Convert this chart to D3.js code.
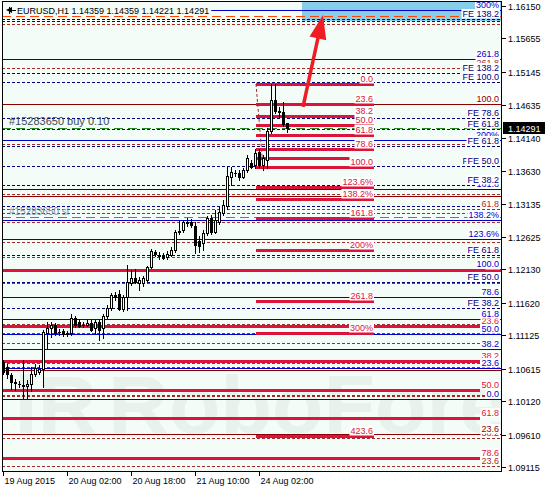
<!DOCTYPE html>
<html><head><meta charset="utf-8">
<script src="https://cdn.jsdelivr.net/npm/d3@7"></script>
<style>body{margin:0;background:#fff}svg{display:block}text{font-family:"Liberation Sans",Arial,sans-serif}</style>
</head><body><svg id="c" width="545" height="490"></svg>
<script>
// ---------- DATA ----------
const symbol = "EURUSD,H1";
const lastOHLC = [1.14359, 1.14359, 1.14221, 1.14291];
const currentPrice = 1.14291;
// hourly bars, index 0 = 19 Aug 2015 10:00
const opens = [1.10717,1.10641,1.10519,1.10412,1.10382,1.10367,1.10351,1.10382,1.10534,1.10565,
1.10611,1.11160,1.11236,1.11282,1.11175,1.11191,1.11145,1.11160,1.11389,1.11328,
1.11282,1.11282,1.11313,1.11236,1.11328,1.11236,1.11419,1.11542,1.11740,1.11755,
1.11526,1.11709,1.11923,1.11999,1.11923,1.11923,1.11969,1.12167,1.12396,1.12350,
1.12335,1.12320,1.12350,1.12427,1.12701,1.12732,1.12839,1.12854,1.12793,1.12564,
1.12533,1.12686,1.12915,1.12701,1.12854,1.12991,1.13098,1.13541,1.13602,1.13602,
1.13541,1.13647,1.13754,1.13724,1.13922,1.13724,1.13800,1.14243,1.14716,1.14548,
1.14533,1.14359];
const highs = [1.10748,1.10687,1.10549,1.10458,1.10427,1.10748,1.10443,1.10641,1.10687,1.10672,
1.11206,1.11328,1.11328,1.11313,1.11221,1.11221,1.11191,1.11450,1.11419,1.11374,
1.11328,1.11358,1.11358,1.11358,1.11358,1.11450,1.11587,1.11770,1.11786,1.11816,
1.11740,1.12198,1.12121,1.12137,1.12015,1.12030,1.12182,1.12442,1.12427,1.12396,
1.12381,1.12411,1.12472,1.12732,1.12869,1.12884,1.12915,1.12900,1.12854,1.12640,
1.12732,1.12945,1.12961,1.13037,1.13083,1.13190,1.13693,1.13693,1.13647,1.13647,
1.13678,1.13876,1.13800,1.13968,1.13968,1.13876,1.14288,1.14960,1.14960,1.14609,
1.14685,1.14359];
const lows = [1.10534,1.10473,1.10305,1.10290,1.10336,1.10168,1.10168,1.10275,1.10504,1.10534,
1.10336,1.10931,1.11099,1.11130,1.11130,1.11114,1.11114,1.11130,1.11252,1.11252,
1.11252,1.11267,1.11191,1.11160,1.11053,1.11084,1.11389,1.11511,1.11664,1.11511,
1.11496,1.11511,1.11892,1.11923,1.11816,1.11877,1.11938,1.12152,1.12335,1.12289,
1.12289,1.12289,1.12335,1.12396,1.12671,1.12701,1.12793,1.12778,1.12381,1.12396,
1.12427,1.12655,1.12671,1.12686,1.12823,1.12961,1.13052,1.13419,1.13556,1.13495,
1.13525,1.13617,1.13678,1.13678,1.13693,1.13647,1.13678,1.14212,1.14517,1.14456,
1.14319,1.14221];
const closes = [1.10565,1.10534,1.10412,1.10397,1.10375,1.10351,1.10382,1.10534,1.10626,1.10611,
1.11175,1.11236,1.11282,1.11160,1.11170,1.11145,1.11160,1.11389,1.11282,1.11267,
1.11277,1.11313,1.11206,1.11328,1.11206,1.11419,1.11542,1.11740,1.11709,1.11526,
1.11709,1.11938,1.11999,1.11938,1.11969,1.11999,1.12167,1.12411,1.12366,1.12340,
1.12305,1.12366,1.12427,1.12701,1.12712,1.12854,1.12850,1.12808,1.12503,1.12488,
1.12686,1.12915,1.12701,1.12884,1.13007,1.13113,1.13556,1.13617,1.13595,1.13541,
1.13647,1.13830,1.13693,1.13907,1.13724,1.13830,1.14243,1.14716,1.14548,1.14533,
1.14349,1.14291];

const timeTickBars = [0, 16, 32, 48, 64];
const timeTickLabels = ["19 Aug 2015", "20 Aug 02:00", "20 Aug 18:00", "21 Aug 10:00", "24 Aug 02:00"];
const priceTicks = [1.16150,1.15655,1.15145,1.14635,1.14140,1.13630,1.13135,1.12625,1.12130,1.11620,1.11125,1.10615,1.10120,1.09610,1.09115];

// Fibonacci retracement / extension levels
const fibRatios = [0, 23.6, 38.2, 50, 61.8, 78.6, 100, 123.6, 138.2, 161.8, 200, 261.8, 300, 423.6];
const fibLabels = ["0.0","23.6","38.2","50.0","61.8","78.6","100.0","123.6%","138.2%","161.8","200%","261.8","300%","423.6"];
// short crimson fibo on the last swing (level 0 price, level 100 price) and its bar span
const fibShortAnchors = [1.14960, 1.13693];
const fibShortBars = [63.25, 92.75];
const fibShortExtra = [88.6];
// long blue fibo
const fibBlueAnchors = [1.10153, 1.12132];
// long crimson fibo
const fibRedAnchors = [1.12121, 1.08474];
const fibRedRatios = [0, 23.6, 38.2, 50, 61.8, 78.6];
const fibRedLabels = ["0.0","23.6","38.2","50.0","61.8","78.6"];

// Fibo expansion levels (navy dashed)
const feLevels = [1.15952,1.15921,1.15128,1.14990,1.14441,1.14273,1.14014,1.13708,1.13705,1.13419,1.13098,1.12350,1.11938,1.11542];
const feLabels = ["FE 138.2","","FE 138.2","FE 100.0","FE 78.6","FE 61.8","FE 61.8","FE 100.0","FE 50.0","FE 38.2","","FE 61.8","FE 50.0","FE 38.2"];
// dark red dashed levels
const brownDashLevels = [1.15875,1.15204,1.14044,1.13281,1.13052,1.12991,1.12854,1.12549,1.12320,1.11923,1.11297,1.11160,1.11007,1.10702,1.10641,1.10199,1.09558,1.09130];
const brownDashLabels = ["","261.8","","","61.8","","","","","","","","","","","","38.2","23.6"];
const brownDashBold = [1.10199];
// dark red solid levels
const brownSolidLevels = [1.14655, 1.13251, 1.10595, 1.09619];
const brownSolidLabels = ["100.0", "", "", "23.6"];

// order lines
const orderId = "#15283650";
const buyPrice = 1.14290, slPrice = 1.12930, tpPrice = 1.15997;
// drawn objects
const zoneBars = [74.75, 130], zonePrices = [1.15921, 1.1700];
const arrowFrom = [75, 1.14609], arrowTo = [80, 1.16013];
const trendFrom = [63.25, 1.14960], trendTo = [65, 1.13693];
const watermark = "RoboForex";

// ---------- CHART ----------
const W = 545, H = 490;
const P = {l: 2, t: 1, r: 501, b: 471};
const x = d3.scaleLinear().domain([0, 124.5]).range([3, 501]);
const y = d3.scaleLinear().domain([1.09115, 1.16150]).range([467, 6]);
const C = {bg: "#f3fcf7", navy: "#000080", blue: "#0000cd", crimson: "#dc143c", brown: "#a52a2a",
           brownSolid: "#8b0000", orange: "#ff4500", green: "#1e8c1e"};

const svg = d3.select("#c");
svg.append("rect").attr("width", W).attr("height", H).attr("fill", "#fff");
svg.append("defs").append("clipPath").attr("id", "clip").append("rect")
  .attr("x", P.l).attr("y", P.t).attr("width", P.r - P.l).attr("height", P.b - P.t);
const g = svg.append("g").attr("clip-path", "url(#clip)");
g.append("rect").attr("x", P.l).attr("y", P.t).attr("width", P.r - P.l).attr("height", P.b - P.t).attr("fill", C.bg);

// watermark
const wm = g.append("g").attr("fill", "#e8f2ed");
wm.append("rect").attr("x", 20).attr("y", 374).attr("width", 12).attr("height", 59);
wm.append("text").attr("x", 38).attr("y", 433).attr("font-size", 82).attr("font-weight", "bold").text("R");
wm.append("text").attr("x", 108).attr("y", 433).attr("font-size", 82).attr("font-weight", "bold")
  .attr("textLength", 445).attr("lengthAdjust", "spacingAndGlyphs").text(watermark);

// zone rectangle
g.append("rect").attr("x", x(zoneBars[0])).attr("width", x(zoneBars[1]) - x(zoneBars[0]))
  .attr("y", y(zonePrices[1])).attr("height", y(zonePrices[0]) - y(zonePrices[1])).attr("fill", "#87ceeb");

const lines = g.append("g");
function hline(p, x0, x1, color, w, dash) {
  const yy = (w % 2 === 1) ? Math.round(y(p)) + 0.5 : Math.round(y(p));
  lines.append("line").attr("x1", x0).attr("x2", x1).attr("y1", yy).attr("y2", yy)
    .attr("stroke", color).attr("stroke-width", w).attr("stroke-dasharray", dash || null);
}
const XL = P.l, XR = P.r;
brownDashLevels.forEach(p => hline(p, XL, XR, C.brown, brownDashBold.includes(p) ? 2 : 1, "3,2"));
feLevels.forEach(p => hline(p, XL, XR, C.navy, 1, "3,2"));
brownSolidLevels.forEach(p => hline(p, XL, XR, C.brownSolid, 1));
const fibPrice = (a, r) => a[0] + (a[1] - a[0]) * r / 100;
fibRatios.forEach(r => hline(fibPrice(fibBlueAnchors, r), XL, XR, C.blue, 1));
hline(tpPrice, XL, XR, C.orange, 1, "9,5");
hline(slPrice, XL, XR, C.orange, 1, "9,5");
hline(buyPrice, XL, XR, C.green, 1, "9,5");
fibRedRatios.forEach(r => hline(fibPrice(fibRedAnchors, r), XL, r === 0 ? XR : 480, C.crimson, 3));
fibRatios.concat(fibShortExtra).forEach(r => hline(fibPrice(fibShortAnchors, r), x(fibShortBars[0]), x(fibShortBars[1]), C.crimson, 3));
lines.append("line").attr("x1", x(trendFrom[0])).attr("y1", y(trendFrom[1])).attr("x2", x(trendTo[0])).attr("y2", y(trendTo[1]))
  .attr("stroke", C.brown).attr("stroke-width", 1).attr("stroke-dasharray", "3,2");

// candles
const cg = g.append("g");
opens.forEach((o, i) => {
  const xc = Math.round(x(i)), c = closes[i];
  cg.append("line").attr("x1", xc + 0.5).attr("x2", xc + 0.5)
    .attr("y1", Math.round(y(highs[i]))).attr("y2", Math.round(y(lows[i])) + 1)
    .attr("stroke", "#000").attr("stroke-width", 1);
  const top = Math.round(y(Math.max(o, c))), bot = Math.round(y(Math.min(o, c)));
  const h = Math.max(bot - top, 0);
  if (h === 0) {
    cg.append("line").attr("x1", xc - 1).attr("x2", xc + 2).attr("y1", top + 0.5).attr("y2", top + 0.5).attr("stroke", "#000");
  } else {
    cg.append("rect").attr("x", xc - 0.5).attr("y", top + 0.5).attr("width", 2).attr("height", h)
      .attr("fill", c >= o ? "#fff" : "#000").attr("stroke", "#000").attr("stroke-width", 1);
  }
});

// level labels
const lab = g.append("g").attr("font-size", 9);
function label(p, xr, txt, color) {
  if (!txt) return;
  const yy = Math.round(y(p)) - 2;
  const t = lab.append("text").attr("x", xr).attr("y", yy).attr("text-anchor", "end").attr("fill", color).text(txt);
  const b = t.node().getBBox();
  lab.insert("rect", () => t.node()).attr("x", b.x - 1).attr("y", yy - 8).attr("width", b.width + 2).attr("height", 9.5).attr("fill", "#fff");
}
brownDashLevels.forEach((p, i) => label(p, 499, brownDashLabels[i], C.brown));
brownSolidLevels.forEach((p, i) => label(p, 499, brownSolidLabels[i], C.brownSolid));
fibRedRatios.forEach((r, i) => label(fibPrice(fibRedAnchors, r), 499, fibRedLabels[i], C.crimson));
fibRatios.forEach((r, i) => label(fibPrice(fibBlueAnchors, r), 499, fibLabels[i], C.blue));
feLevels.forEach((p, i) => label(p, 499, feLabels[i], C.navy));
fibRatios.forEach((r, i) => label(fibPrice(fibShortAnchors, r), 373, fibLabels[i], C.crimson));

// order labels
g.append("text").attr("x", 9).attr("y", Math.round(y(buyPrice)) - 3).attr("font-size", 11).attr("fill", "#3d4b5c").text(orderId + " buy 0.10");
g.append("text").attr("x", 9).attr("y", Math.round(y(slPrice)) - 2).attr("font-size", 10).attr("fill", "#7f91ab").text(orderId + " sl");

// arrow
(function () {
  const x1 = x(arrowFrom[0]), y1 = y(arrowFrom[1]), x2 = x(arrowTo[0]), y2 = y(arrowTo[1]);
  const L = Math.hypot(x2 - x1, y2 - y1), ux = (x2 - x1) / L, uy = (y2 - y1) / L, nx = -uy, ny = ux;
  const hl = 24, hw = 8.5;
  const bx = x2 - ux * hl, by = y2 - uy * hl;
  g.append("line").attr("x1", x1).attr("y1", y1).attr("x2", bx + ux * 2).attr("y2", by + uy * 2)
    .attr("stroke", "#ee1c25").attr("stroke-width", 3.5);
  g.append("path").attr("d", `M${x2},${y2}L${bx + nx * hw},${by + ny * hw}L${bx - nx * hw},${by - ny * hw}Z`).attr("fill", "#ee1c25");
})();

// header
const hdr = g.append("g");
const ht = hdr.append("text").attr("x", 17).attr("y", 14).attr("font-size", 9).attr("fill", "#000")
  .text(symbol + " " + lastOHLC.map(v => v.toFixed(5)).join(" "));
const hb = ht.node().getBBox();
hdr.insert("rect", () => ht.node()).attr("x", 3).attr("y", 3).attr("width", hb.x + hb.width - 1).attr("height", 12).attr("fill", C.bg);
hdr.append("path").attr("d", "M6,10L12,7L12,13Z").attr("fill", "#000");
hdr.append("line").attr("x1", 11).attr("x2", 16).attr("y1", 10.5).attr("y2", 10.5).attr("stroke", "#000");
hdr.append("line").attr("x1", 9.5).attr("x2", 9.5).attr("y1", 7).attr("y2", 14).attr("stroke", "#000");

// frame
svg.append("rect").attr("x", P.l + 0.5).attr("y", P.t + 0.5).attr("width", P.r - P.l).attr("height", P.b - P.t)
  .attr("fill", "none").attr("stroke", "#000");

// price axis
const ax = svg.append("g").attr("font-size", 9);
priceTicks.forEach(p => {
  const yy = Math.round(y(p)) + 0.5;
  ax.append("line").attr("x1", P.r + 1).attr("x2", P.r + 5).attr("y1", yy).attr("y2", yy).attr("stroke", "#000");
  ax.append("text").attr("x", 508).attr("y", yy + 3.5).attr("fill", "#000").text(p.toFixed(5));
});
const cpy = Math.round(y(currentPrice));
ax.append("rect").attr("x", 503).attr("y", cpy - 6).attr("width", 42).attr("height", 12).attr("fill", "#000");
ax.append("text").attr("x", 508).attr("y", cpy + 4).attr("fill", "#fff").text(currentPrice.toFixed(5));

// time axis
timeTickBars.forEach((b, i) => {
  const xx = Math.round(x(b)) + 0.5;
  ax.append("line").attr("x1", xx).attr("x2", xx).attr("y1", P.b + 1).attr("y2", P.b + 5).attr("stroke", "#000");
  ax.append("text").attr("x", xx + 1).attr("y", 484).attr("fill", "#000").text(timeTickLabels[i]);
});
</script></body></html>
